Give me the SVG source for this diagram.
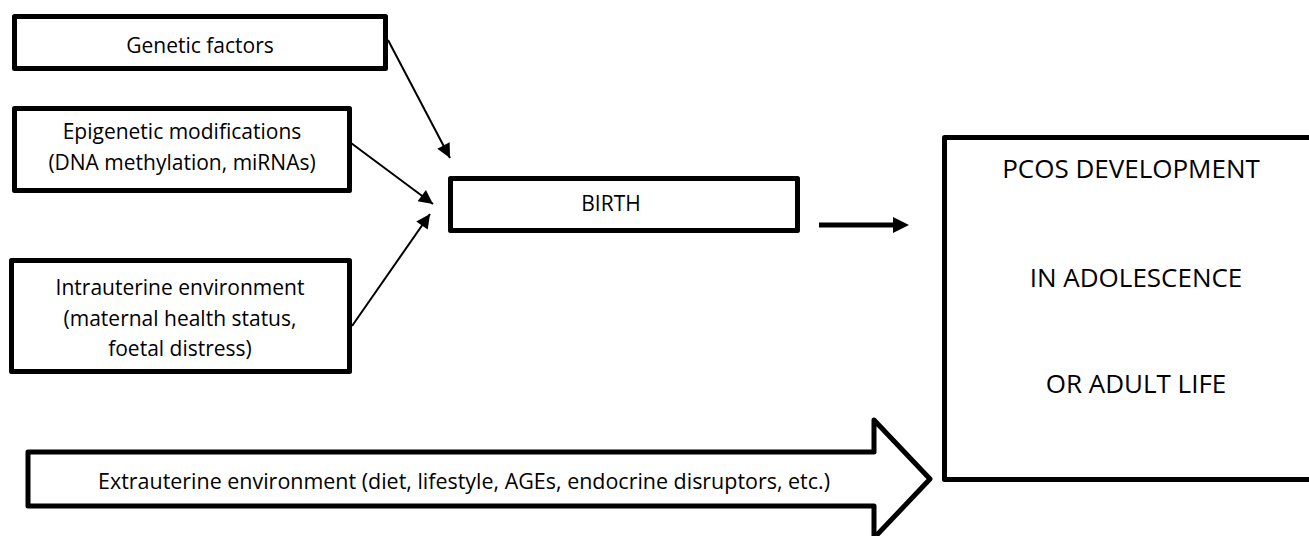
<svg xmlns="http://www.w3.org/2000/svg" width="1309" height="536" viewBox="0 0 1309 536">
<defs>
<style>
.box{fill:#fff;stroke:#000;stroke-width:5;stroke-linejoin:round}
.t{font-family:"Open Sans","Noto Sans","Liberation Sans",sans-serif;font-size:21px;fill:#000;text-anchor:middle}
.big{font-size:26px}
.conn{stroke:#000;stroke-width:2;fill:none}
</style>
<marker id="ah" viewBox="0 0 10 10" refX="10" refY="5" markerWidth="8" markerHeight="7" orient="auto" markerUnits="strokeWidth">
<path d="M0,0 L10,5 L0,10 z" fill="#000"/>
</marker>
</defs>
<rect width="1309" height="536" fill="#fff"/>
<g id="genetic">
<rect class="box" x="14.5" y="16.5" width="371" height="52"/>
<text class="t" x="200" y="53">Genetic factors</text>
</g>
<g id="epigenetic">
<rect class="box" x="14.5" y="108.5" width="335" height="82"/>
<text class="t" x="182" y="139">Epigenetic modifications</text>
<text class="t" x="182" y="170">(DNA methylation, miRNAs)</text>
</g>
<g id="intrauterine">
<rect class="box" x="11.5" y="260.5" width="338" height="111"/>
<text class="t" x="180" y="295">Intrauterine environment</text>
<text class="t" x="180" y="326">(maternal health status,</text>
<text class="t" x="180" y="356">foetal distress)</text>
</g>
<g id="birth">
<rect class="box" x="450.5" y="178.5" width="347" height="52"/>
<text class="t" x="611" y="211">BIRTH</text>
</g>
<g id="pcos">
<rect class="box" x="944.5" y="137.5" width="380" height="342"/>
<text class="t big" x="1131" y="178">PCOS DEVELOPMENT</text>
<text class="t big" x="1136" y="287">IN ADOLESCENCE</text>
<text class="t big" x="1136" y="393">OR ADULT LIFE</text>
</g>
<g id="extrauterine">
<polygon class="box" points="28,452 874,452 874,420 930,479 874,538 874,506 28,506" stroke-width="4.5"/>
<text class="t" x="464" y="489" textLength="732" lengthAdjust="spacingAndGlyphs">Extrauterine environment (diet, lifestyle, AGEs, endocrine disruptors, etc.)</text>
</g>
<g id="connectors">
<line class="conn" x1="388" y1="40" x2="450" y2="158" marker-end="url(#ah)"/>
<line class="conn" x1="351" y1="143" x2="433" y2="204" marker-end="url(#ah)"/>
<line class="conn" x1="352" y1="326" x2="430" y2="214" marker-end="url(#ah)"/>
<line x1="819" y1="225" x2="895" y2="225" stroke="#000" stroke-width="5"/>
<polygon points="893,217 909,225 893,233" fill="#000"/>
</g>
</svg>
